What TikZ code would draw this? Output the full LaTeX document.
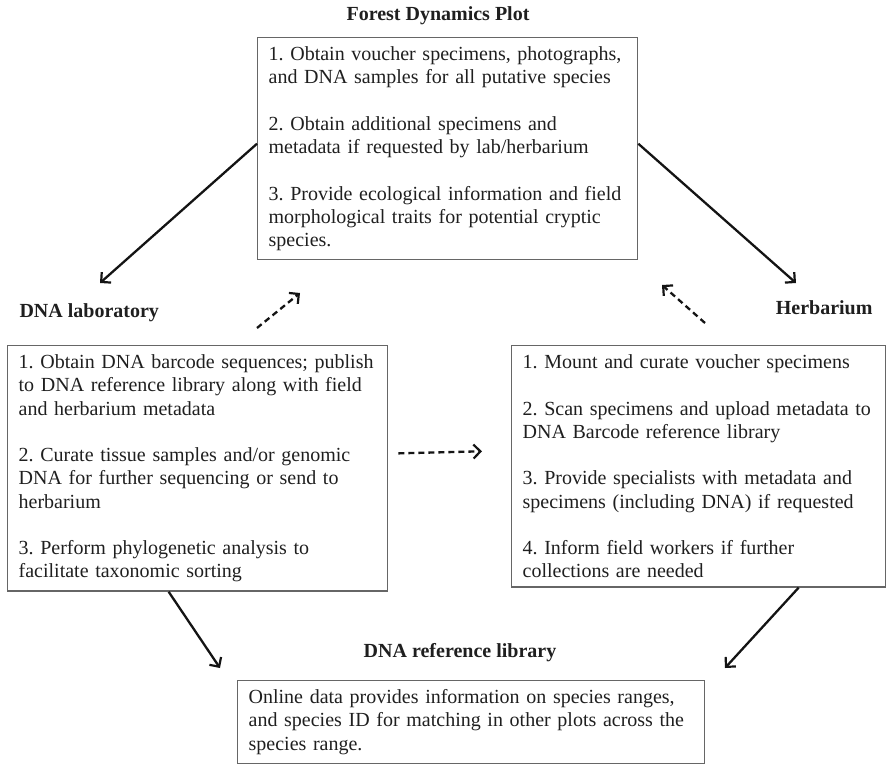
\documentclass[tikz,border=0pt]{standalone}
\usepackage{fontspec}
\setmainfont{Liberation Serif}
\usetikzlibrary{arrows.meta}
\frenchspacing
\hyphenpenalty=10000
\newcommand{\gapline}{\\[23.25pt]}
\begin{document}
\begin{tikzpicture}[x=1pt,y=-1pt,
  stepbox/.style={draw=black!60,line width=1.3pt,anchor=north west,align=left,inner xsep=11pt,inner ysep=9pt,text=black!88,font=\fontsize{20}{23.25}\selectfont},
  heading/.style={text=black!88,font=\fontsize{20}{23.25}\selectfont\bfseries},
  flow/.style={-{Straight Barb[length=7pt,width=14pt,line width=2.2pt]},line width=2.3pt,black!92},
  feedback/.style={flow,dash pattern=on 6pt off 4pt}]
\useasboundingbox (0,0) rectangle (888,763);
\node[stepbox,text width=358pt] (plot) at (257,37) {1. Obtain voucher specimens, photographs,\\and DNA samples for all putative species\gapline 2. Obtain additional specimens and\\metadata if requested by lab/herbarium\gapline 3. Provide ecological information and field\\morphological traits for potential cryptic\\species.};
\node[heading] (plottitle) at (438,16) {Forest Dynamics Plot};
\node[stepbox,text width=358pt] (lab) at (7,345) {1. Obtain DNA barcode sequences; publish\\to DNA reference library along with field\\and herbarium metadata\gapline 2. Curate tissue samples and/or genomic\\DNA for further sequencing or send to\\herbarium\gapline 3. Perform phylogenetic analysis to\\facilitate taxonomic sorting};
\node[heading,anchor=west] (labtitle) at (16,313) {DNA laboratory};
\node[stepbox,text width=352pt] (herb) at (511,345) {1. Mount and curate voucher specimens\gapline 2. Scan specimens and upload metadata to\\DNA Barcode reference library\gapline 3. Provide specialists with metadata and\\specimens (including DNA) if requested\gapline 4. Inform field workers if further\\collections are needed};
\node[heading,anchor=east] (herbtitle) at (876,308) {Herbarium};
\node[stepbox,text width=445pt] (ref) at (237,680) {Online data provides information on species ranges,\\and species ID for matching in other plots across the\\species range.};
\node[heading] (reftitle) at (460,653) {DNA reference library};
\coordinate (labin) at (100,283);
\coordinate (herbin) at (796,283);
\coordinate (refinl) at (220,668);
\coordinate (refinr) at (725,668);
\coordinate (labfb) at (257,328);
\coordinate (plotfbl) at (300,293);
\coordinate (herbfb) at (705,323);
\coordinate (plotfbr) at (662,285);
\draw[flow] ([yshift=5pt]plot.west) -- (labin);
\draw[flow] ([yshift=5pt]plot.east) -- (herbin);
\draw[flow] ([xshift=-29pt]lab.south) -- (refinl);
\draw[flow] ([xshift=100pt]herb.south) -- (refinr);
\draw[feedback] (labfb) -- (plotfbl);
\draw[feedback] (herbfb) -- (plotfbr);
\draw[feedback] ([xshift=10pt,yshift=15pt]lab.east) -- ([xshift=-29pt,yshift=15pt]herb.west);
\end{tikzpicture}
\end{document}
